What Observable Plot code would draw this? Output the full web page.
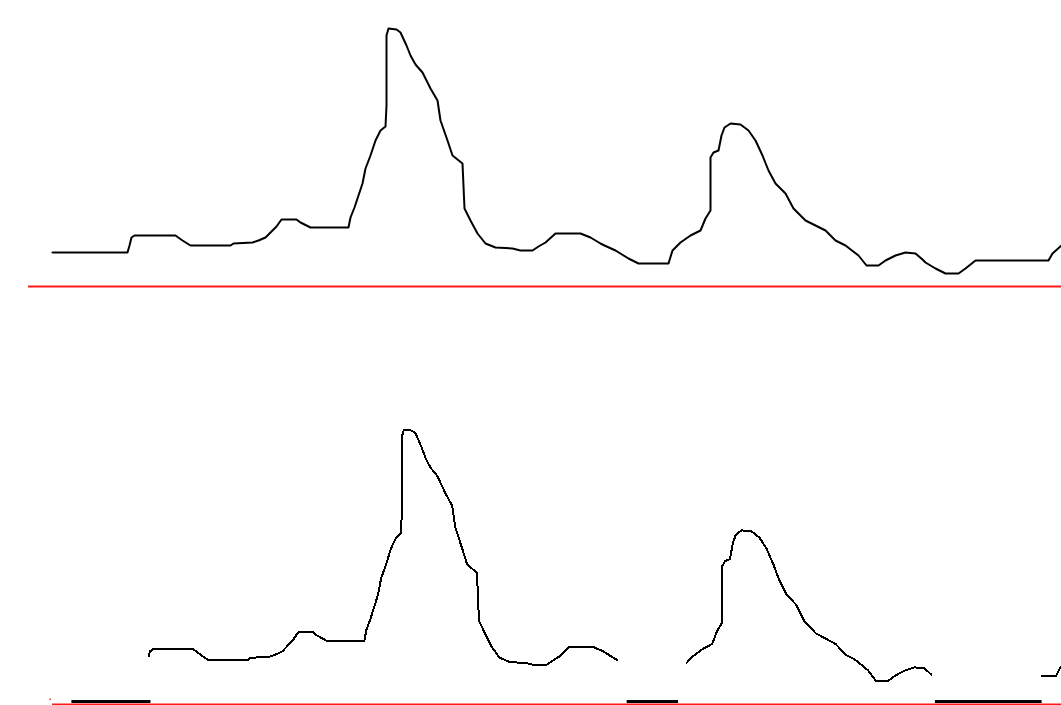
<!DOCTYPE html>
<html><head><meta charset="utf-8">
<script src="https://cdn.jsdelivr.net/npm/d3@7"></script>
<script src="https://cdn.jsdelivr.net/npm/@observablehq/plot@0.6"></script>
<style>html,body{margin:0;padding:0;background:#fff;overflow:hidden;} #chart svg{display:block;}</style>
</head><body><div id="chart"></div>
<script>
// sample position and signal level
const t = [0,75,77,78,79,82,123,130,138,178,181,200,206,213,218,224,229,244,248,258,296,298,302,305,310,313,318,323,328,333,334,334,336,344,348,354,358,363,370,378,385,388,395,400,410,412,418,425,433,443,460,468,480,486,493,503,528,538,548,552,563,576,586,616,620,622,628,638,648,653,658,658,661,666,669,672,678,688,696,703,710,716,723,733,741,753,763,773,783,793,806,814,826,833,843,853,863,870,873,883,893,906,913,923,982,996,1000,1009];
const v = [35,35,42,46,50,52,52,47,42,42,44,45,47,50,55,61,68,68,65,60,60,70,80,89,104,119,132,147,157,161,182,252,259,258,255,242,232,223,215,199,187,167,147,132,124,79,67,54,44,40,39,37,37,41,45,54,54,50,44,42,37,29,24,24,37,39,45,52,57,69,77,130,135,137,152,160,164,163,157,147,132,117,104,94,79,67,62,57,47,42,32,22,22,27,32,35,34,28,25,19,14,14,19,27,27,27,34,42];
// ranges missing in the lower record (line breaks)
const breakStart = [-Infinity, 552, 870];
const breakEnd = [78, 622, 982];
// gap markers drawn on the baseline
const gapStart = [0, 562, 874];
const gapEnd = [80, 614, 982];
const specks = [{t: -22, v: 5}];

const series = t.map((x, i) => ({t: x, v: v[i]}));
const inBreak = (x) => breakStart.some((s, i) => x > s && x < breakEnd[i]);
const observed = series.map(d => ({t: d.t, v: inBreak(d.t) ? NaN : d.v}));
const gaps = gapStart.map((s, i) => ({s, e: gapEnd[i]}));

const chartTop = Plot.plot({
  width: 1061, height: 300,
  marginLeft: 0, marginRight: 0, marginTop: 0, marginBottom: 0,
  x: {domain: [0, 1009], range: [52, 1061], axis: null},
  y: {domain: [0, 259], range: [287, 28], axis: null},
  marks: [
    Plot.ruleY([0], {x1: -24, x2: 1009, stroke: "#ff1a1a", strokeWidth: 2, dy: -1}),
    Plot.line(series, {x: "t", y: "v", stroke: "black", strokeWidth: 2})
  ]
});

const chartBottom = Plot.plot({
  width: 1061, height: 405,
  marginLeft: 0, marginRight: 0, marginTop: 0, marginBottom: 0,
  x: {domain: [0, 1009], range: [71.4, 1068.3], axis: null},
  y: {domain: [0, 259], range: [404, 129], axis: null},
  marks: [
    Plot.ruleY(gaps, {y: 0, x1: "s", x2: "e", stroke: "black", strokeWidth: 3, dy: -3}),
    Plot.ruleY([0], {x1: -19.6, x2: 1009, stroke: "#ff1a1a", strokeWidth: 2}),
    Plot.dot(specks, {x: "t", y: "v", r: 1, fill: "#ff5555", stroke: "none"}),
    Plot.line(observed, {x: "t", y: "v", stroke: "black", strokeWidth: 2, shapeRendering: "crispEdges"})
  ]
});

document.getElementById("chart").append(chartTop, chartBottom);
</script></body></html>
